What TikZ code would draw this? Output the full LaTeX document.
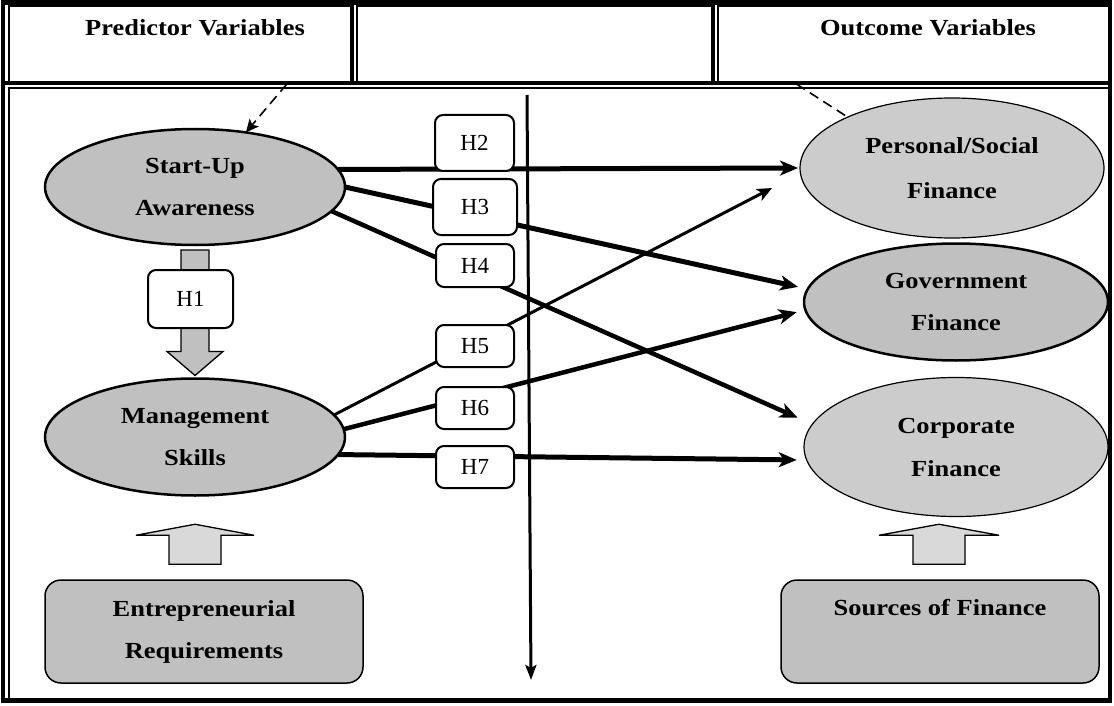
\documentclass[tikz,border=0pt]{standalone}
\usepackage{fontspec}
\setmainfont{Liberation Serif}
\newfontfamily\bsf{Liberation Serif}[FakeStretch=1.15]
\usetikzlibrary{shapes.geometric,arrows.meta,calc}
\definecolor{gA}{RGB}{192,192,192}
\definecolor{gB}{RGB}{204,204,204}
\definecolor{gC}{RGB}{217,217,217}
\tikzset{
  bt/.style={font=\bsf\bfseries\fontsize{23}{42}\selectfont, align=center},
  hbox/.style={draw, line width=1.2pt, inner sep=0pt, outer sep=0pt},
  ellA/.style={ellipse, draw, line width=2.5pt, fill=gA, inner sep=0pt, outer sep=0pt, bt},
  ellB/.style={ellipse, draw, line width=1.2pt, fill=gB, inner sep=0pt, outer sep=0pt, bt},
  hyp/.style={draw, line width=2pt, rounded corners=8pt, fill=white, inner sep=0pt,
              font=\fontsize{23}{26}\selectfont},
  srcbox/.style={draw, line width=1.5pt, rounded corners=16pt, fill=gA, inner sep=0pt,
                 minimum width=318pt, minimum height=103pt, bt},
  conn/.style={-{Stealth[length=18pt,width=15pt,inset=5pt]}, line cap=butt},
  dsh/.style={dashed, dash pattern=on 10pt off 6pt, line width=1.6pt},
  blockarrow/.style={draw, line width=1.3pt, line join=miter},
}
\begin{document}
\begin{tikzpicture}[x=1pt,y=-1pt]
\useasboundingbox (0,0) rectangle (1114,706);

% header boxes
\node[hbox, minimum width=343pt, minimum height=78pt] (hl) at (180.5,45) {};
\node[hbox, minimum width=356pt, minimum height=78pt] (hm) at (535,45) {};
\node[hbox, minimum width=392pt, minimum height=78pt] (hr) at (914,45) {};
\node[bt, anchor=base] (tp) at (195,36) {Predictor Variables};
\node[bt, anchor=base] (to) at (928,36) {Outcome Variables};

% main box
\draw[line width=1.2pt] (9,88) rectangle (1110,700);

% thick frame lines
\draw[line width=4.5pt] (3,2.5) rectangle (1110,700.5);
\draw[line width=4pt] (352,2) -- (352,85) (713,2) -- (713,85) (3,83) -- (1110,83);

% ellipses
\node[ellA, minimum width=300pt, minimum height=116pt] (su) at (195,187) {Start-Up\\Awareness};
\node[ellA, minimum width=300pt, minimum height=117pt] (mg) at (195,437) {Management\\Skills};
\node[ellB, minimum width=304pt, minimum height=140pt, font=\bsf\bfseries\fontsize{23}{45}\selectfont] (ps) at (952,168) {Personal/Social\\Finance};
\node[ellA, minimum width=304pt, minimum height=117pt] (gov) at (956,302) {Government\\Finance};
\node[ellB, minimum width=304pt, minimum height=139pt, font=\bsf\bfseries\fontsize{23}{43}\selectfont] (cor) at (956,447) {Corporate\\Finance};

% bottom boxes
\node[srcbox] (er) at (204,631.5) {Entrepreneurial\\Requirements};
\node[srcbox, text height=16pt, text depth=49pt] (sf) at (940,631.5) {Sources of Finance};

% dashed connectors
\draw[dsh, -{Stealth[length=13pt,width=12pt,inset=3pt]}] ($(hl.south west)!0.81!(hl.south east)$) -- (su.47);
\draw[dsh] ($(hr.south west)!0.2!(hr.south east)$) -- (ps.154.5);

% H1 block arrow
\draw[blockarrow, fill=gA] ($(su.south)+(-14,5)$) -- ($(su.south)+(14,5)$) -- ($(mg.north)+(14,-27)$) -- ($(mg.north)+(28,-27)$) -- ($(mg.north)+(0,-3)$) -- ($(mg.north)+(-28,-27)$) -- ($(mg.north)+(-14,-27)$) -- cycle;

% bottom block arrows
\draw[blockarrow, fill=gC] ($(er.north)+(-35,-15)$) -- ($(er.north)+(17,-15)$) -- ($(er.north)+(17,-44)$) -- ($(er.north)+(50,-44)$) -- ($(er.north)+(-9,-55)$) -- ($(er.north)+(-68,-44)$) -- ($(er.north)+(-35,-44)$) -- cycle;
\draw[blockarrow, fill=gC] ($(sf.north)+(-27,-15)$) -- ($(sf.north)+(25,-15)$) -- ($(sf.north)+(25,-44)$) -- ($(sf.north)+(59,-44)$) -- ($(sf.north)+(-1,-55)$) -- ($(sf.north)+(-61,-44)$) -- ($(sf.north)+(-27,-44)$) -- cycle;

% hypothesis connectors
\draw[conn, line width=5pt, shorten >=2pt] (su.7.6) -- (ps.west);
\draw[conn, line width=5pt, shorten >=10pt] (su.east) -- (gov.175.1);
\draw[conn, line width=4.5pt, shorten >=16pt] (su.-10) -- (cor.171.2);
\draw[-{Stealth[length=15pt,width=13pt,inset=4pt]}, line width=3pt, shorten >=32pt] (mg.9.5) -- (ps.182.3);
\draw[conn, line width=4.5pt, shorten >=9pt] (mg.3) -- (gov.183.4);
\draw[conn, line width=5pt, shorten >=10pt] (mg.-7) -- (cor.185.8);

% central vertical arrow
\coordinate (vt) at (527,95);
\coordinate (vb) at (531,680);
\draw[line width=3pt, -{Stealth[length=15pt,width=11pt,inset=3pt]}] (vt) -- (vb);

% hypothesis boxes
\node[hyp, minimum width=85pt, minimum height=58pt] (h1) at (190.5,299) {H1};
\node[hyp, minimum width=79pt, minimum height=56pt] (h2) at (474.5,143) {H2};
\node[hyp, minimum width=84pt, minimum height=56pt] (h3) at (475,207) {H3};
\node[hyp, minimum width=78pt, minimum height=43pt] (h4) at (475,265.5) {H4};
\node[hyp, minimum width=78pt, minimum height=42pt] (h5) at (475,346) {H5};
\node[hyp, minimum width=78pt, minimum height=42pt] (h6) at (475,408) {H6};
\node[hyp, minimum width=78pt, minimum height=42pt] (h7) at (475,467) {H7};
\end{tikzpicture}
\end{document}
